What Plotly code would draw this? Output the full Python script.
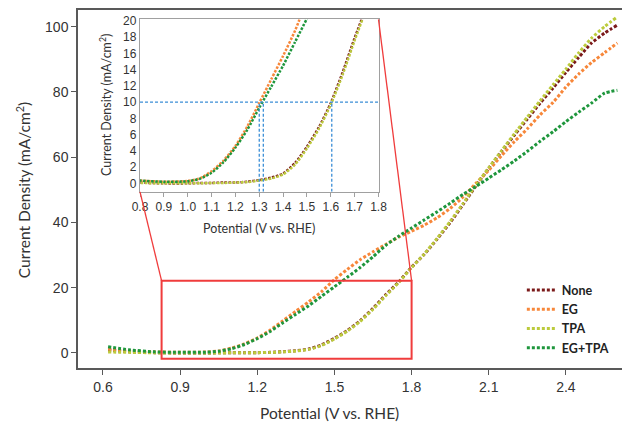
import plotly.graph_objects as go

# ---------------- data ----------------
potential = [0.62, 0.70, 0.80, 0.90, 1.00, 1.05, 1.10, 1.15, 1.20, 1.25, 1.30, 1.35,
             1.40, 1.45, 1.50, 1.55, 1.60, 1.65, 1.70, 1.75, 1.80, 1.85, 1.90, 1.95,
             2.00, 2.05, 2.10, 2.15, 2.20, 2.25, 2.30, 2.35, 2.40, 2.45, 2.50, 2.55, 2.60]

j_none = [0.9, 0.4, 0.1, 0.0, 0.0, 0.05, 0.05, 0.1, 0.1, 0.2, 0.4, 0.7,
          1.2, 2.5, 4.5, 6.9, 9.9, 13.7, 17.9, 21.8, 26.3, 30.3, 35.0, 40.0,
          45.5, 51.2, 56.6, 61.8, 66.8, 71.7, 76.6, 81.2, 86.0, 90.6, 95.0, 98.0, 100.5]

j_eg = [1.2, 0.6, 0.35, 0.2, 0.3, 0.6, 1.5, 2.8, 4.6, 7.0, 9.9, 12.8,
        15.7, 18.8, 22.5, 25.6, 28.6, 31.0, 33.3, 35.5, 37.3, 39.2, 41.5, 44.3,
        47.8, 52.0, 56.0, 60.5, 64.8, 68.7, 73.0, 76.8, 81.5, 85.5, 89.0, 92.0, 95.0]

j_tpa = [0.3, 0.2, 0.05, 0.0, 0.0, 0.0, 0.05, 0.05, 0.1, 0.15, 0.35, 0.6,
         1.1, 2.3, 4.3, 6.7, 9.7, 13.4, 17.6, 21.6, 26.2, 30.4, 35.2, 40.3,
         45.8, 51.4, 56.8, 62.0, 67.2, 72.3, 77.3, 82.2, 87.0, 92.0, 96.5, 100.0, 103.0]

j_egtpa = [1.9, 1.0, 0.35, 0.2, 0.25, 0.55, 1.3, 2.6, 4.4, 6.6, 9.3, 11.9,
           14.5, 17.4, 20.3, 23.2, 26.2, 29.5, 33.0, 35.8, 38.3, 40.8, 43.3, 45.9,
           48.6, 51.0, 53.6, 56.2, 58.9, 61.8, 64.9, 67.8, 70.9, 73.8, 76.6, 79.6, 80.5]

series_names = ["None", "EG", "TPA", "EG+TPA"]
series_values = [j_none, j_eg, j_tpa, j_egtpa]
series_colors = ["#7b1a1a", "#f7873a", "#bccb3c", "#1e963c"]

main_ticks = [0.6, 0.9, 1.2, 1.5, 1.8, 2.1, 2.4]
main_yticks = [0, 20, 40, 60, 80, 100]
inset_xticks = [0.8, 0.9, 1.0, 1.1, 1.2, 1.3, 1.4, 1.5, 1.6, 1.7, 1.8]
inset_yticks = [0, 2, 4, 6, 8, 10, 12, 14, 16, 18, 20]

target_j = 10
onset_potentials = [1.30, 1.317, 1.604]

zoom_x = [0.828, 1.80]
zoom_y = [-1.75, 22.1]

# ---------------- layout geometry ----------------
main_xrange = [0.503, 2.618]
main_yrange = [-4.6, 105.1]
inset_xrange = [0.8, 1.8]
inset_yrange = [-1.05, 20.2]
inset_dom_x = [0.114, 0.5524]
inset_dom_y = [0.492, 0.974]

title_font = "Lato, 'Open Sans', sans-serif"
tick_font = "'Liberation Sans', Arial, sans-serif"

fig = go.Figure()

for name, vals, col in zip(series_names, series_values, series_colors):
    fig.add_trace(go.Scatter(
        x=potential, y=vals, mode="lines", name=f"<b>{name}</b>",
        line=dict(color=col, width=3, dash="3px,2px", shape="spline", smoothing=0.6),
        xaxis="x", yaxis="y"))

for name, vals, col in zip(series_names, series_values, series_colors):
    fig.add_trace(go.Scatter(
        x=potential, y=vals, mode="lines", name=name, showlegend=False,
        line=dict(color=col, width=2.5, dash="2.5px,1.5px", shape="spline", smoothing=0.6),
        xaxis="x2", yaxis="y2"))

# blue dashed guide lines in inset
blue = "#3b8ed6"
fig.add_trace(go.Scatter(x=inset_xrange, y=[target_j, target_j], mode="lines",
                         line=dict(color=blue, width=1.3, dash="3px,2px"),
                         showlegend=False, xaxis="x2", yaxis="y2"))
for v in onset_potentials:
    fig.add_trace(go.Scatter(x=[v, v], y=[inset_yrange[0], target_j], mode="lines",
                             line=dict(color=blue, width=1.3, dash="3px,2px"),
                             showlegend=False, xaxis="x2", yaxis="y2"))


def to_paper_x(v):
    return (v - main_xrange[0]) / (main_xrange[1] - main_xrange[0])


def to_paper_y(v):
    return (v - main_yrange[0]) / (main_yrange[1] - main_yrange[0])


red = "#f03c3c"
shapes = [
    dict(type="rect", xref="x", yref="y", x0=zoom_x[0], x1=zoom_x[1], y0=zoom_y[0], y1=zoom_y[1],
         line=dict(color=red, width=2)),
    dict(type="line", xref="paper", yref="paper",
         x0=inset_dom_x[0], y0=inset_dom_y[0], x1=to_paper_x(zoom_x[0]), y1=to_paper_y(zoom_y[1]),
         line=dict(color=red, width=1.3)),
    dict(type="line", xref="paper", yref="paper",
         x0=inset_dom_x[1], y0=inset_dom_y[1], x1=to_paper_x(zoom_x[1]), y1=to_paper_y(zoom_y[1]),
         line=dict(color=red, width=1.3)),
]

axis_grey = "#595959"
inset_grey = "#a0a0a0"

fig.update_layout(
    width=622, height=427,
    margin=dict(l=78, r=0, t=10, b=58.7, autoexpand=False),
    paper_bgcolor="white", plot_bgcolor="white",
    shapes=shapes,
    xaxis=dict(range=main_xrange, tickvals=main_ticks, ticktext=[f"{t:.1f}" for t in main_ticks],
               automargin=False,
               showgrid=False, zeroline=False, showline=True, linecolor=axis_grey, linewidth=1.5,
               mirror=True, ticks="outside", ticklen=5, tickcolor=axis_grey, tickwidth=1.2,
               tickfont=dict(family=tick_font, size=14, color="#333333")),
    yaxis=dict(range=main_yrange, tickvals=main_yticks, automargin=False,
               showgrid=False, zeroline=False, showline=True, linecolor=axis_grey, linewidth=1.5,
               ticks="outside", ticklen=5, tickcolor=axis_grey, tickwidth=1.2,
               tickfont=dict(family=tick_font, size=14, color="#333333")),
    xaxis2=dict(domain=inset_dom_x, anchor="y2", range=inset_xrange, tickvals=inset_xticks,
                ticktext=[f"{t:.1f}" for t in inset_xticks], automargin=False,
                showgrid=False, zeroline=False, showline=True, linecolor=inset_grey, linewidth=1.3,
                mirror=True, ticks="outside", ticklen=4, tickcolor=inset_grey,
                tickfont=dict(family=tick_font, size=12, color="#333333")),
    yaxis2=dict(domain=inset_dom_y, anchor="x2", range=inset_yrange, tickvals=inset_yticks,
                automargin=False,
                showgrid=False, zeroline=False, showline=True, linecolor=inset_grey, linewidth=1.3,
                mirror=True, ticks="",
                tickfont=dict(family=tick_font, size=12, color="#333333")),
    legend=dict(x=0.985, y=0.259, xanchor="right", yanchor="top", bgcolor="rgba(0,0,0,0)",
                font=dict(family=title_font, size=12.5, color="#222222"),
                itemwidth=30, tracegroupgap=0),
    annotations=[
        dict(text="Potential (V vs. RHE)", xref="paper", yref="paper", x=0.463, y=-0.125,
             showarrow=False, xanchor="center", yanchor="middle",
             font=dict(family=title_font, size=15.5, color="#333333")),
        dict(text="Current Density (mA/cm<sup>2</sup>)", xref="paper", yref="paper", x=-0.101, y=0.497,
             showarrow=False, xanchor="center", yanchor="middle", textangle=-90,
             font=dict(family=title_font, size=15.5, color="#333333")),
        dict(text="Potential (V vs. RHE)", xref="paper", yref="paper", x=0.333, y=0.389,
             showarrow=False, xanchor="center", yanchor="middle",
             font=dict(family=title_font, size=12.5, color="#333333")),
        dict(text="Current Density (mA/cm<sup>2</sup>)", xref="paper", yref="paper", x=0.0515, y=0.735,
             showarrow=False, xanchor="center", yanchor="middle", textangle=-90,
             font=dict(family=title_font, size=12.5, color="#333333")),
    ],
)

fig.write_html(
    "out.html",
    config={"displayModeBar": False},
    post_script="document.body.style.margin='0';document.body.style.overflow='hidden';",
)
